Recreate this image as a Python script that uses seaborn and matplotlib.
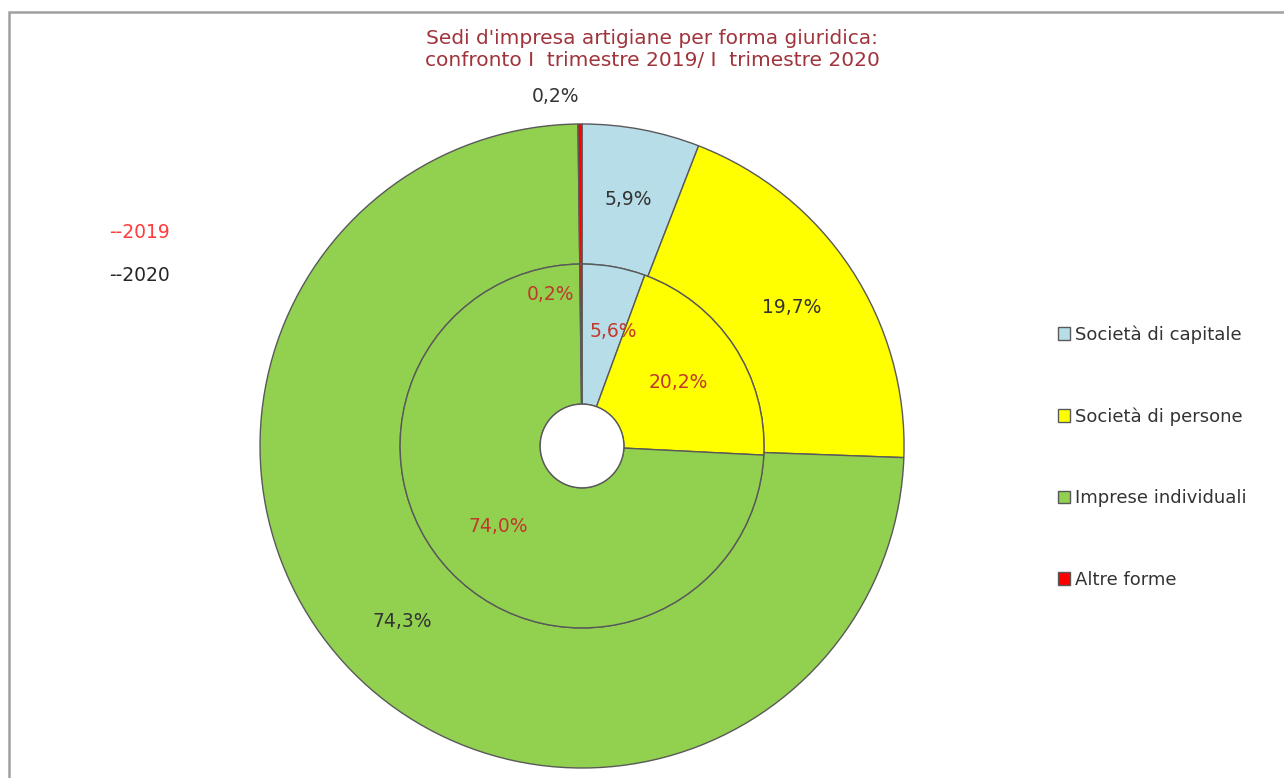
import numpy as np
import matplotlib
matplotlib.use("Agg")
import matplotlib.pyplot as plt
from matplotlib.patches import Rectangle, Circle
import seaborn as sns

# dati
forme = ["Società di capitale", "Società di persone", "Imprese individuali", "Altre forme"]
quote_2020 = [5.9, 19.7, 74.3, 0.2]   # anello esterno
quote_2019 = [5.6, 20.2, 74.0, 0.2]   # anello interno
etich_2020 = ["5,9%", "19,7%", "74,3%", "0,2%"]
etich_2019 = ["5,6%", "20,2%", "74,0%", "0,2%"]
colori = ["#B7DDE8", "#FFFF00", "#92D050", "#FF0000"]

sns.set_theme(style="white")
plt.rcParams["font.family"] = ["DejaVu Sans"]

EDGE = "#595959"
fig = plt.figure(figsize=(12.84, 7.78), dpi=100)
ax = fig.add_axes([0.2025, 0.01285, 0.5016, 0.8278])
ax.set_xlim(-1, 1); ax.set_ylim(-1, 1); ax.set_aspect("equal"); ax.axis("off")

R_in, R_hole = 0.565, 0.13
w_out, _ = ax.pie(quote_2020, radius=1, colors=colori, startangle=90, counterclock=False,
                  wedgeprops=dict(width=1 - R_in, edgecolor=EDGE, linewidth=1.0))
w_in, _ = ax.pie(quote_2019, radius=R_in, colors=colori, startangle=90, counterclock=False,
                 wedgeprops=dict(width=R_in - R_hole, edgecolor=EDGE, linewidth=1.0))
ax.add_patch(Circle((0, 0), R_hole, fc="white", ec=EDGE, lw=1.0, zorder=5))
ax.set_xlim(-1, 1); ax.set_ylim(-1, 1)

def mid(w):
    return np.deg2rad((w.theta1 + w.theta2) / 2)

FS = 13.5
# etichette anello esterno (2020)
for i, (w, t) in enumerate(zip(w_out, etich_2020)):
    a = mid(w)
    r = 1.085 if i == 3 else 0.78
    dx = -0.075 if i == 3 else 0
    ax.text(r * np.cos(a) + dx, r * np.sin(a), t, ha="center", va="center",
            fontsize=FS, color="#333333")
# etichette anello interno (2019)
for i, (w, t) in enumerate(zip(w_in, etich_2019)):
    a = mid(w)
    r = 0.47 if i == 3 else 0.36
    dx = -0.095 if i == 3 else (0.035 if i == 0 else 0)
    ax.text(r * np.cos(a) + dx, r * np.sin(a), t, ha="center", va="center",
            fontsize=FS, color="#C0392B")

fig.text(0.508, 1 - 49 / 778, "Sedi d'impresa artigiane per forma giuridica:\nconfronto I  trimestre 2019/ I  trimestre 2020",
         ha="center", va="center", fontsize=14.5, color="#A0343C", linespacing=1.2)

fig.text(0.085, 1 - 232 / 778, "--2019", fontsize=13.5, color="#FF3B3B", va="center")
fig.text(0.085, 1 - 276 / 778, "--2020", fontsize=13.5, color="#262626", va="center")

leg = fig.legend(w_out, forme, loc="upper left", bbox_to_anchor=(0.818, 1 - 318 / 778),
                 frameon=False, fontsize=13, labelspacing=3.52, handlelength=0.7,
                 handleheight=0.7, handletextpad=0.25, borderaxespad=0)
for t in leg.get_texts():
    t.set_color("#333333")

# cornice del grafico
fig.patches.append(Rectangle((9 / 1284, -0.1), 1.1, 1.1 - 12 / 778, transform=fig.transFigure,
                             fill=False, ec="#A0A0A0", lw=1.8, zorder=0))

fig.savefig("out.png", dpi=100, facecolor="white")
